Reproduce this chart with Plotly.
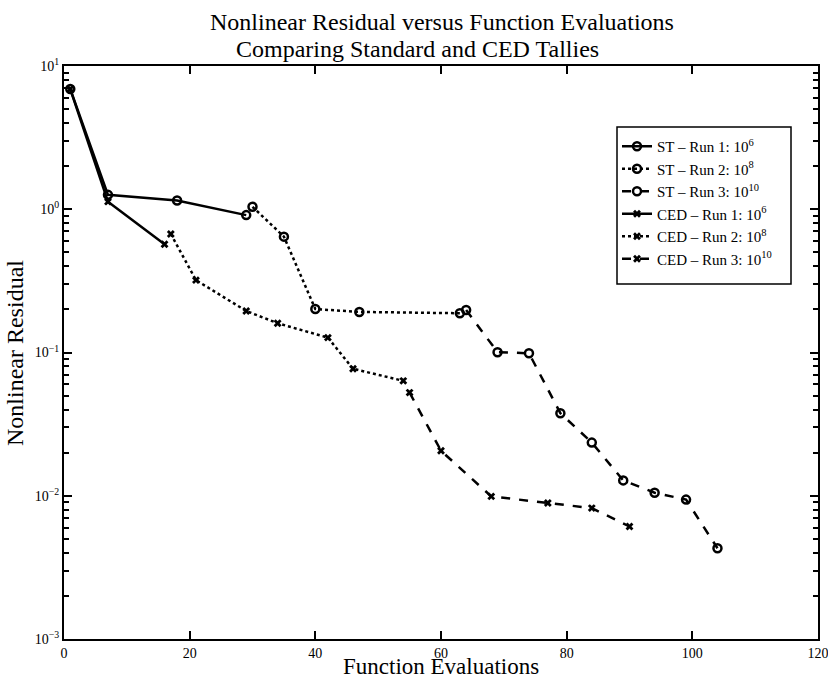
import plotly.graph_objects as go

# ---- data ----
st_run1_x = [1, 7, 18, 29]
st_run1_y = [6.9, 1.26, 1.15, 0.91]
st_run2_x = [30, 35, 40, 47, 63]
st_run2_y = [1.04, 0.644, 0.201, 0.192, 0.188]
st_run3_x = [64, 69, 74, 79, 84, 89, 94, 99, 104]
st_run3_y = [0.198, 0.1005, 0.0988, 0.0377, 0.0235, 0.0128, 0.0105, 0.0094, 0.0043]

ced_run1_x = [1, 7, 16]
ced_run1_y = [6.9, 1.13, 0.57]
ced_run2_x = [17, 21, 29, 34, 42, 46, 54]
ced_run2_y = [0.672, 0.32, 0.195, 0.16, 0.127, 0.077, 0.0634]
ced_run3_x = [55, 60, 68, 77, 84, 90]
ced_run3_y = [0.0525, 0.0206, 0.0099, 0.0089, 0.0082, 0.0061]

names = ["ST \u2013 Run 1: 10<sup>6</sup>", "ST \u2013 Run 2: 10<sup>8</sup>",
         "ST \u2013 Run 3: 10<sup>10</sup>", "CED \u2013 Run 1: 10<sup>6</sup>",
         "CED \u2013 Run 2: 10<sup>8</sup>", "CED \u2013 Run 3: 10<sup>10</sup>"]

ytick_vals = [0.001, 0.01, 0.1, 1, 10]
ytick_text = ["10<sup>\u22123</sup>", "10<sup>\u22122</sup>", "10<sup>\u22121</sup>",
              "10<sup>0</sup>", "10<sup>1</sup>"]
ytick_minor = [m * d for d in [0.001, 0.01, 0.1, 1] for m in range(2, 10)]
xtick_vals = [0, 20, 40, 60, 80, 100, 120]

FONT = "Liberation Serif"
series = [
    (st_run1_x, st_run1_y, "solid", "circle-open"),
    (st_run2_x, st_run2_y, "dot", "circle-open"),
    (st_run3_x, st_run3_y, "dash", "circle-open"),
    (ced_run1_x, ced_run1_y, "solid", "x"),
    (ced_run2_x, ced_run2_y, "dot", "x"),
    (ced_run3_x, ced_run3_y, "dash", "x"),
]

fig = go.Figure()
for (xs, ys, dash, sym), nm in zip(series, names):
    if sym == "circle-open":
        marker = dict(symbol=sym, size=8, color="black", line=dict(width=2.5, color="black"))
    else:
        marker = dict(symbol=sym, size=7, color="black", line=dict(width=0))
    fig.add_trace(go.Scatter(x=xs, y=ys, mode="lines+markers", name=nm,
                             line=dict(color="black", width=2.5, dash=dash),
                             marker=marker))

L, R, T, B = 64, 10, 66, 41
pw, ph = 828 - L - R, 680 - T - B


def px_x(p):
    return (p - L) / pw


def px_y(p):
    return 1 - (p - T) / ph


anns = []
for txt, px, py, size, ang in [
    ("Nonlinear Residual versus Function Evaluations", 442, 22, 24, 0),
    ("Comparing Standard and CED Tallies", 417, 49, 24, 0),
    ("Function Evaluations", 441, 666, 23, 0),
    ("Nonlinear Residual", 15, 353, 24, -90),
]:
    anns.append(dict(text=txt, x=px_x(px), y=px_y(py),
                     xref="paper", yref="paper", showarrow=False,
                     xanchor="center", yanchor="middle", textangle=ang,
                     font=dict(family=FONT, size=size, color="black")))

fig.update_layout(
    width=828, height=680,
    margin=dict(l=L, r=R, t=T, b=B, autoexpand=False),
    paper_bgcolor="white", plot_bgcolor="white",
    font=dict(family=FONT, color="black", size=14),
    showlegend=True,
    legend=dict(x=px_x(617), xanchor="left", y=px_y(130), yanchor="top",
                borderwidth=0, bgcolor="rgba(0,0,0,0)",
                font=dict(family=FONT, size=15), itemwidth=30),
    shapes=[dict(type="rect", xref="paper", yref="paper",
                 x0=px_x(617), x1=px_x(791), y0=px_y(284), y1=px_y(127),
                 line=dict(color="black", width=1.5), fillcolor="white", layer="below")],
    xaxis=dict(range=[0, 120], tickvals=xtick_vals, ticks="inside", ticklen=8,
               tickwidth=1.5, tickcolor="black", showline=True, linecolor="black",
               linewidth=2, mirror="ticks", showgrid=False, zeroline=False,
               ticklabeloverflow="allow",
               tickfont=dict(family=FONT, size=14)),
    yaxis=dict(type="log", range=[-3, 1], tickvals=ytick_vals, ticktext=ytick_text,
               ticks="inside", ticklen=8, tickwidth=1.5, tickcolor="black",
               showline=True, linecolor="black", linewidth=2, mirror="ticks",
               showgrid=False, zeroline=False,
               minor=dict(tickvals=ytick_minor, ticks="inside", ticklen=5,
                          tickwidth=1.5, tickcolor="black", showgrid=False),
               tickfont=dict(family=FONT, size=14)),
    annotations=anns,
)

fig.write_html("out.html")
